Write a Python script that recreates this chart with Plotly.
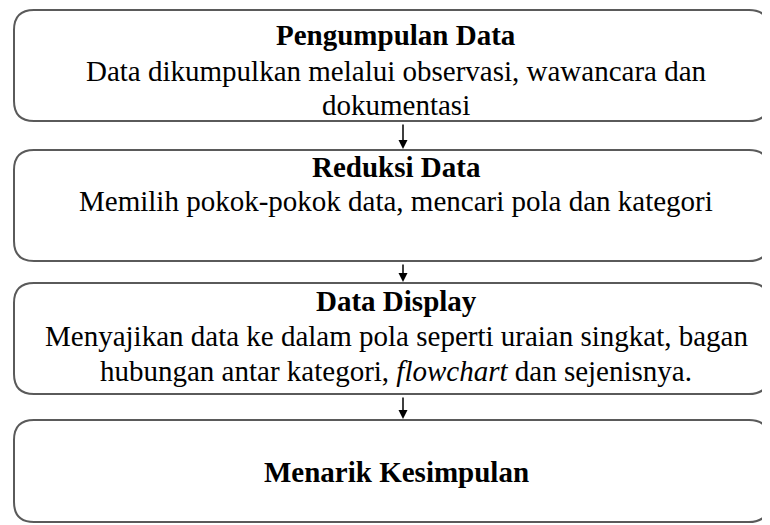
import plotly.graph_objects as go

# ---- data ----
step_titles = ["Pengumpulan Data", "Reduksi Data", "Data Display", "Menarik Kesimpulan"]
step_lines = [
    ["Data dikumpulkan melalui observasi, wawancara dan", "dokumentasi"],
    ["Memilih pokok-pokok data, mencari pola dan kategori"],
    ["Menyajikan data ke dalam pola seperti uraian singkat, bagan",
     "hubungan antar kategori, <i>flowchart</i> dan sejenisnya."],
    [],
]

# ---- layout constants (page pixel coordinates) ----
PAGE_W, PAGE_H = 770, 525
BODY_MARGIN = 8  # default browser body margin
box_top = [10, 150, 283, 420]
box_bot = [121, 261, 394, 522]
text_y = [[35, 71, 105], [167, 201], [301, 336, 371], [472]]
x0, x1 = 14, 769
r = 20
cx = 396
arrow_x = 403
FONT = "Liberation Serif, Times New Roman, serif"
FS = 29

def rounded(x0, y0, x1, y1, r):
    return (f"M {x0+r},{y0} L {x1-r},{y0} Q {x1},{y0} {x1},{y0+r} "
            f"L {x1},{y1-r} Q {x1},{y1} {x1-r},{y1} L {x0+r},{y1} "
            f"Q {x0},{y1} {x0},{y1-r} L {x0},{y0+r} Q {x0},{y0} {x0+r},{y0} Z")

shapes = []
annotations = []
for i, title in enumerate(step_titles):
    t, b = box_top[i], box_bot[i]
    shapes.append(dict(type="path", path=rounded(x0, t, x1, b, r),
                       line=dict(color="#5a5a5a", width=2), fillcolor="white",
                       xref="x", yref="y", layer="below"))
    texts = [f"<b>{title}</b>"] + step_lines[i]
    for k, txt in enumerate(texts):
        annotations.append(dict(x=cx, y=text_y[i][k], text=txt, showarrow=False,
                                xref="x", yref="y", xanchor="center", yanchor="middle",
                                font=dict(family=FONT, size=FS, color="black")))
    if i < len(step_titles) - 1:
        annotations.append(dict(x=arrow_x, y=box_top[i + 1] - 1, ax=arrow_x, ay=b + 2,
                                xref="x", yref="y", axref="x", ayref="y", text="",
                                showarrow=True, arrowhead=2, arrowsize=1.2,
                                arrowwidth=1.5, arrowcolor="black"))

fig = go.Figure()
fig.update_layout(
    width=PAGE_W - BODY_MARGIN, height=PAGE_H - BODY_MARGIN,
    margin=dict(l=0, r=0, t=0, b=0),
    paper_bgcolor="white", plot_bgcolor="white",
    xaxis=dict(range=[BODY_MARGIN, PAGE_W], visible=False, fixedrange=True),
    yaxis=dict(range=[PAGE_H, BODY_MARGIN], visible=False, fixedrange=True),
    shapes=shapes, annotations=annotations, showlegend=False,
)
fig.write_html("out.html")
